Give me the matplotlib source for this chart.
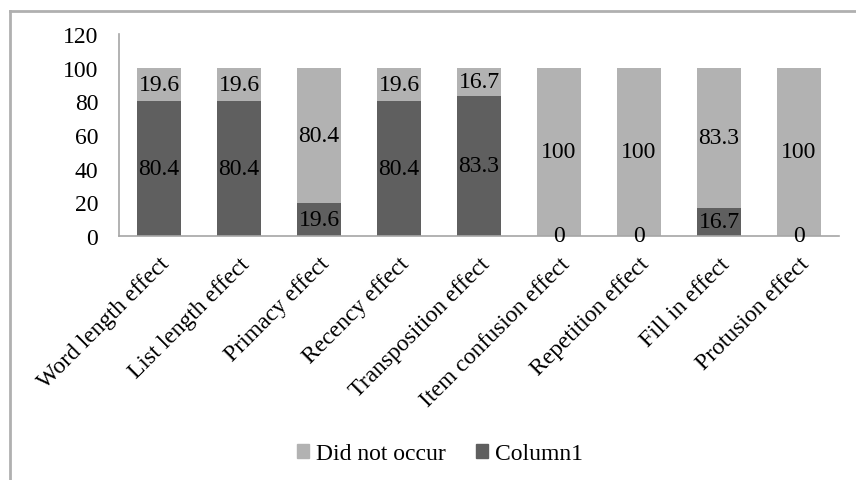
import matplotlib
matplotlib.use("Agg")
import matplotlib.pyplot as plt
from matplotlib.lines import Line2D
from matplotlib.patches import Patch
import numpy as np

plt.rcParams['font.family'] = ['Liberation Serif', 'DejaVu Serif']

categories = ["Word length effect", "List length effect", "Primacy effect",
              "Recency effect", "Transposition effect", "Item confusion effect",
              "Repetition effect", "Fill in effect", "Protusion effect"]
column1 = [80.4, 80.4, 19.6, 80.4, 83.3, 0, 0, 16.7, 0]
did_not_occur = [19.6, 19.6, 80.4, 19.6, 16.7, 100, 100, 83.3, 100]
yticks = [0, 20, 40, 60, 80, 100, 120]

dark = "#5f5f5f"
light = "#b2b2b2"
fs = 17

fig = plt.figure(figsize=(8.56, 4.81), dpi=100)
ax = fig.add_axes([119/856, 1-237/481, 720/856, 202/481])

x = np.arange(len(categories))
ax.bar(x, column1, width=0.55, color=dark)
ax.bar(x, did_not_occur, width=0.55, bottom=column1, color=light)

for xi, c, d in zip(x, column1, did_not_occur):
    ax.text(xi, c/2, f"{c:g}", ha="center", va="center", fontsize=fs, color="black")
    ax.text(xi, c + d/2, f"{d:g}", ha="center", va="center", fontsize=fs, color="black")

ax.set_xlim(-0.5, len(categories) - 0.5)
ax.set_ylim(0, 120)
ax.set_yticks(yticks)
ax.set_yticklabels([str(t) for t in yticks], fontsize=fs)
ax.tick_params(axis="y", length=0, pad=15)
ax.tick_params(axis="x", length=0)
ax.set_xticks(x)
ax.set_xticklabels(categories, rotation=45, ha="right", rotation_mode="anchor",
                   fontsize=fs)
for lbl in ax.get_xticklabels():
    lbl.set_y(-0.06)

for s in ["top", "right"]:
    ax.spines[s].set_visible(False)
for s in ["left", "bottom"]:
    ax.spines[s].set_color("#a6a6a6")
    ax.spines[s].set_linewidth(1.2)

handles = [Patch(color=light), Patch(color=dark)]
fig.legend(handles, ["Did not occur", "Column1"], loc="center",
           bbox_to_anchor=(0.514, 1-455/481), ncol=2, frameon=False,
           fontsize=fs, handlelength=0.5, handleheight=0.5,
           handletextpad=0.3, columnspacing=1.3)

# outer chart frame
fig.add_artist(Line2D([10/856, 10/856], [0, 1-12/481], transform=fig.transFigure,
                      color="#b0b0b0", lw=2))
fig.add_artist(Line2D([10/856, 1], [1-12/481, 1-12/481], transform=fig.transFigure,
                      color="#b0b0b0", lw=2))

fig.savefig("out.png", dpi=100)
